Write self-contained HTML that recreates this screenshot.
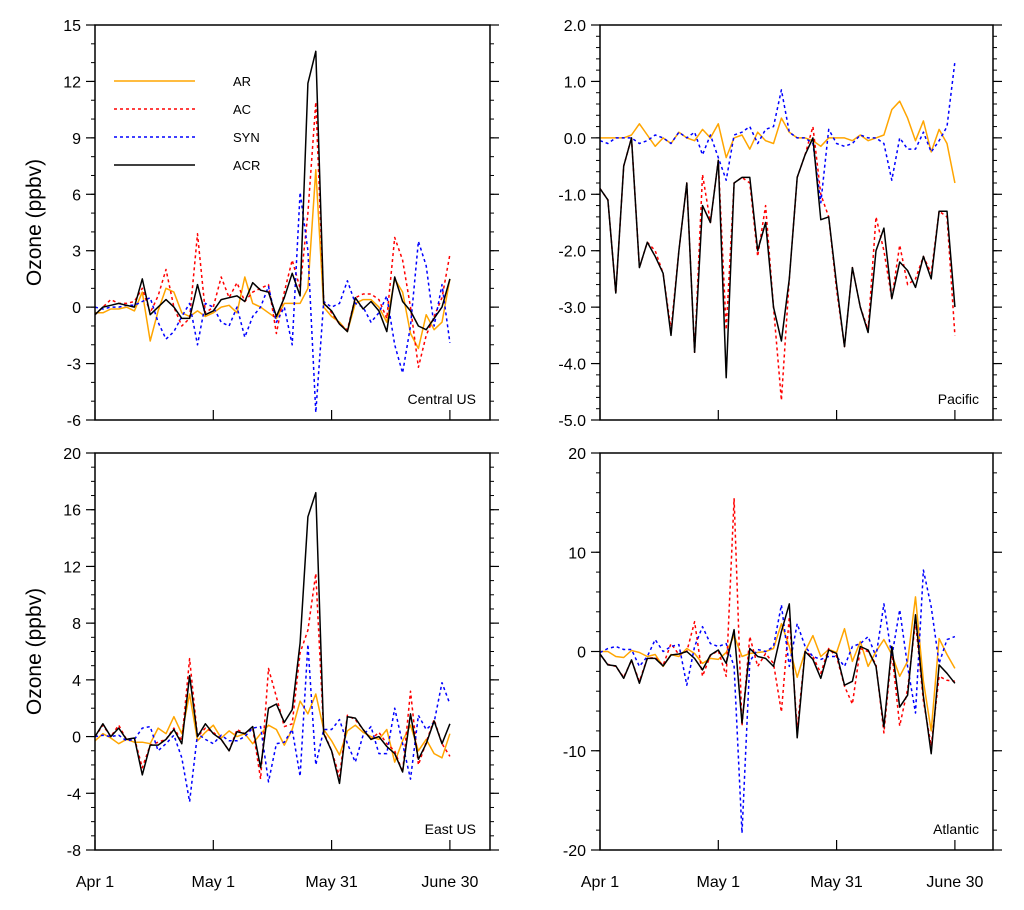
<!DOCTYPE html>
<html><head><meta charset="utf-8"><style>
body{margin:0;background:#fff;font-family:"Liberation Sans",Arial,sans-serif}
svg text{font-family:"Liberation Sans",Arial,sans-serif}
</style></head><body>
<svg id="chart" width="1024" height="905" viewBox="0 0 1024 905" xmlns="http://www.w3.org/2000/svg"></svg>
<script>
// ---- data (one value every 2 days, Apr 1 .. June 30) ----
const dayStep = 2;
const xTickDays = [0, 30, 60, 90];
const xTickLabels = ["Apr 1", "May 1", "May 31", "June 30"];
const seriesNames = ["AR", "AC", "SYN", "ACR"];

const centralAR  = [-0.3,-0.3,-0.1,-0.1,0,-0.2,0.8,-1.8,-0.2,1.0,0.8,-0.3,-0.5,-0.2,-0.5,-0.3,0,0.1,-0.3,1.6,0.2,0,-0.3,-0.6,0.2,0.2,0.2,1.0,7.3,0,-0.5,-0.8,-1.3,0.2,0.4,0.4,0,-0.8,1.5,0.8,-1.4,-2.2,-0.4,-1.2,-0.8,1.5];
const centralAC  = [-0.4,0,0.4,0.2,0.2,0.3,1.0,-0.3,0.6,2.0,0,-1.0,-0.6,3.9,-0.3,0,1.6,0.5,1.3,0.3,0.8,1.0,1.2,-1.4,0.8,2.5,1.0,5.0,10.9,0.3,-0.3,-0.9,-1.2,0.5,0.7,0.7,0.4,-0.6,3.7,2.5,0,-3.2,-1.5,-0.5,0.5,2.8];
const centralSYN = [0,-0.1,0,0,0.1,0.1,0.3,0.5,-0.8,-1.7,-1.3,-0.5,0.2,-2.0,0.2,0,-0.8,-1.0,0,-1.6,-0.5,0,1.1,-0.8,0,-2.0,6.1,3.0,-5.6,0.3,0,0.2,1.4,0.2,0,-0.8,-0.3,0.6,-2.0,-3.5,-1.0,3.5,2.2,-1.0,1.2,-1.9];
const centralACR = [-0.4,0,0.1,0.2,0.1,0,1.5,-0.4,0,0.4,0,-0.6,-0.6,1.2,-0.4,-0.2,0.4,0.5,0.6,0.3,1.3,0.9,0.8,-0.5,0.5,1.8,0.6,11.9,13.6,0.2,-0.2,-0.9,-1.3,0.5,-0.1,0.3,-0.2,-1.3,1.6,0.3,-0.2,-1.0,-1.2,-0.6,0,1.5];

const pacificAR  = [0,0,0,0,0.05,0.25,0.05,-0.15,0,-0.1,0.1,0,-0.05,0.15,0,0.25,-0.35,0,0.05,-0.2,0.1,-0.05,-0.1,0.35,0.1,0,0,-0.05,-0.15,0,0,0,-0.05,0.05,-0.05,0,0.05,0.5,0.65,0.35,-0.05,0.3,-0.25,0.15,-0.1,-0.8];
const pacificAC  = [-0.9,-1.1,-2.75,-0.5,0,-2.3,-1.85,-2.0,-2.4,-3.4,-2.0,-0.8,-3.8,-0.65,-1.5,-0.4,-3.4,-0.8,-0.7,-0.8,-2.1,-1.2,-3.0,-4.65,-2.5,-0.7,-0.3,0.2,-1.0,-1.4,-2.7,-3.7,-2.3,-3.0,-3.4,-1.4,-2.0,-2.85,-1.9,-2.6,-2.5,-2.1,-2.4,-1.3,-1.4,-3.5];
const pacificSYN = [-0.05,-0.1,0,0,0,-0.1,-0.05,0.05,0,-0.1,0.1,0,0.1,-0.3,0.05,-0.35,-0.75,0.05,0.1,0.2,-0.1,0.15,0.2,0.85,0.1,0,0,-0.1,-1.15,0.15,-0.1,-0.15,-0.1,0.05,0,0,-0.1,-0.75,0,-0.2,-0.2,0.1,-0.25,-0.05,0.2,1.35];
const pacificACR = [-0.9,-1.1,-2.75,-0.5,0,-2.3,-1.85,-2.1,-2.4,-3.5,-2.0,-0.8,-3.8,-1.2,-1.5,-0.4,-4.25,-0.8,-0.7,-0.7,-2.0,-1.5,-3.0,-3.6,-2.5,-0.7,-0.3,0,-1.45,-1.4,-2.6,-3.7,-2.3,-3.0,-3.45,-2.0,-1.6,-2.85,-2.2,-2.35,-2.65,-2.1,-2.5,-1.3,-1.3,-3.0];

const eastAR  = [-0.3,0.2,-0.1,-0.5,-0.2,-0.4,-0.4,-0.5,0.6,0.2,1.4,0.2,3.0,-0.3,0.3,0.8,-0.1,0.4,0,0.2,-0.5,0.2,0.8,0.5,-0.6,0.5,2.5,1.6,3.0,0.5,-0.3,-1.3,0.4,0.8,0.3,0,-0.2,0.5,-1.8,-0.3,0.8,-1.0,-0.2,-1.2,-1.5,0.2];
const eastAC  = [0,0.8,0,0.8,-0.2,-0.1,-2.2,-0.6,-0.4,-0.2,0.6,-0.3,5.5,0,0.6,0.3,-0.2,-1.0,0.5,0.2,0.6,-3.0,4.8,2.8,0.7,0.9,5.9,7.5,11.5,0.3,-1.0,-2.8,1.5,1.2,0.5,-0.2,0.3,-0.5,-1.0,-2.5,3.2,-2.0,-0.4,1.2,-0.5,-1.4];
const eastSYN = [0,0.1,0,0.1,-0.3,-0.2,0.6,0.7,-1.0,-0.5,0.1,-1.5,-4.6,0.2,-0.2,-0.5,0.1,-0.3,-0.3,0,0.6,0.7,-3.2,-0.5,-0.4,0.5,-2.8,6.5,-2.0,0.5,0.5,1.2,-0.5,-1.8,0.1,0.7,-1.2,-1.2,2.0,-0.5,-3.0,1.5,0.5,1.0,3.8,2.3];
const eastACR = [0,0.9,0,0.6,-0.2,-0.1,-2.7,-0.6,-0.6,-0.2,0.5,-0.5,4.3,0,0.9,0.2,-0.2,-1.0,0.35,0.2,0.7,-2.2,2.0,2.3,1.0,1.9,6.6,15.5,17.2,0.2,-1.0,-3.3,1.4,1.3,0.5,-0.2,0,-0.7,-1.2,-2.5,1.6,-1.6,-0.5,1.1,-0.5,0.9];

const atlanticAR  = [0,0,-0.5,-0.6,0.1,-0.1,-0.5,-0.3,-1.5,-0.3,-0.5,0.3,-0.2,-1.2,-0.7,-0.8,-0.1,1.6,-0.5,-0.2,-0.1,0,0.3,2.8,0.5,-2.6,0,1.6,-0.5,0.2,-0.1,2.3,-1.0,1.0,-1.5,0,1.2,-0.3,-2.5,-1.0,5.5,-3.0,-8.0,1.3,-0.3,-1.7];
const atlanticAC  = [-0.3,-1.3,-1.5,-2.6,-0.9,-3.0,-0.7,-0.6,-1.4,0.8,-0.3,0,3.0,-2.5,-0.4,0.1,-2.5,15.4,-7.5,1.5,-1.5,-0.2,-1.2,-6.1,3.5,-7.8,0,-0.5,-2.2,0.3,-0.5,-3.5,-5.3,0.3,0,-1.3,-8.2,0,-7.5,-3.8,3.0,-5.0,-9.5,-2.5,-2.9,-3.0];
const atlanticSYN = [-0.1,0.3,0.5,0.2,0.2,-1.5,-0.5,1.2,0,0.5,0.7,-3.4,0.5,2.5,0.8,0.5,0.8,-1.5,-18.3,-1.0,0.2,0,0.5,4.7,-1.5,2.8,0.5,-0.5,-0.8,-0.5,-0.5,-1.5,0.5,0.8,1.5,-0.5,4.8,-0.5,4.2,-1.5,-6.2,8.2,4.5,-1.2,1.2,1.5];
const atlanticACR = [-0.25,-1.35,-1.45,-2.7,-0.85,-3.2,-0.7,-0.7,-1.45,-0.35,-0.25,0,-0.7,-1.85,-0.35,0.15,-1.2,2.2,-7.2,0.3,-0.5,-0.7,-1.5,2.0,4.8,-8.7,0,-0.8,-2.7,0.15,-0.2,-3.4,-3.0,0.5,0.15,-1.5,-7.6,0.5,-5.6,-4.4,3.7,-4.5,-10.3,-1.35,-2.2,-3.2];

const centralTicks = [15,12,9,6,3,0,-3,-6];
const centralTickLabels = ["15","12","9","6","3","0","-3","-6"];
const pacificTicks = [2,1,0,-1,-2,-3,-4,-5];
const pacificTickLabels = ["2.0","1.0","0.0","-1.0","-2.0","-3.0","-4.0","-5.0"];
const eastTicks = [20,16,12,8,4,0,-4,-8];
const eastTickLabels = ["20","16","12","8","4","0","-4","-8"];
const atlanticTicks = [20,10,0,-10,-20];
const atlanticTickLabels = ["20","10","0","-10","-20"];

const NS = "http://www.w3.org/2000/svg";
const svg = document.getElementById("chart");
const styles = [
  {color:"#ffa500", dash:null},
  {color:"#ff0000", dash:"3,3"},
  {color:"#0000ff", dash:"3,3"},
  {color:"#000000", dash:null}
];
function mk(tag, attrs, parent){
  const e = document.createElementNS(NS, tag);
  for (const k in attrs) e.setAttribute(k, attrs[k]);
  (parent||svg).appendChild(e);
  return e;
}
function panel(cfg){
  const g = mk("g", {});
  
  
  const L=cfg.x0, R=cfg.x1, T=cfg.y0, B=cfg.y1;
  const xs = d => L + d*(118.3/30);
  const ys = v => T + (cfg.max - v)/(cfg.max - cfg.min)*(B-T);
  // minor ticks
  for (let v=cfg.min; v<=cfg.max+1e-9; v+=cfg.minor){
    const y=ys(v);
    const t1 = mk("line",{x1:L-4,x2:L,y1:y,y2:y,stroke:"#000","stroke-width":1},g);
    
    
    const t2 = mk("line",{x1:R,x2:R+4,y1:y,y2:y,stroke:"#000","stroke-width":1},g);
    
    
  }
  cfg.ticks.forEach((v,i)=>{
    const y=ys(v);
    const t = mk("line",{x1:L-9,x2:L,y1:y,y2:y,stroke:"#000","stroke-width":1.2},g);
    
    
    const t2 = mk("line",{x1:R,x2:R+9,y1:y,y2:y,stroke:"#000","stroke-width":1.2},g);
    
    
    const lb = mk("text",{x:L-14,y:y+6,"text-anchor":"end","font-size":16,fill:"#000"},g);
    lb.textContent = cfg.tickLabels[i];
    
    
  });
  xTickDays.forEach((d,i)=>{
    const x=xs(d);
    const t = mk("line",{x1:x,x2:x,y1:B-10,y2:B,stroke:"#000","stroke-width":1.2},g);
    
    
    if (cfg.xlabels){
      const lb = mk("text",{x:x,y:B+37,"text-anchor":"middle","font-size":16,fill:"#000"},g);
      lb.textContent = xTickLabels[i];
      
      
    }
  });
  cfg.series.forEach((arr,si)=>{
    const pts = arr.map((v,i)=>xs(i*dayStep).toFixed(1)+","+ys(v).toFixed(1)).join(" ");
    const a = {points:pts,fill:"none",stroke:styles[si].color,"stroke-width":1.5,"stroke-linejoin":"round"};
    if (styles[si].dash) a["stroke-dasharray"]=styles[si].dash;
    const pl = mk("polyline",a,g);
    
    
  });
  const fr = mk("rect",{x:L,y:T,width:R-L,height:B-T,fill:"none",stroke:"#000","stroke-width":1.5},g);
  
  
  const rl = mk("text",{x:R-14,y:B-16,"text-anchor":"end","font-size":14,fill:"#000"},g);
  rl.textContent = cfg.label;
  
  
  if (cfg.ylabel){
    const yl = mk("text",{x:0,y:0,"text-anchor":"middle","font-size":21,fill:"#000",transform:"translate(41,"+((T+B)/2)+") rotate(-90)"},g);
    yl.textContent = "Ozone (ppbv)";
    
    
  }
}
panel({name:"central-us",x0:95,x1:490,y0:25,y1:420,max:15,min:-6,minor:1,ticks:centralTicks,tickLabels:centralTickLabels,series:[centralAR,centralAC,centralSYN,centralACR],label:"Central US",ylabel:true,xlabels:false});
panel({name:"pacific",x0:600,x1:993,y0:25,y1:420,max:2,min:-5,minor:0.2,ticks:pacificTicks,tickLabels:pacificTickLabels,series:[pacificAR,pacificAC,pacificSYN,pacificACR],label:"Pacific",ylabel:false,xlabels:false});
panel({name:"east-us",x0:95,x1:490,y0:453,y1:850,max:20,min:-8,minor:1,ticks:eastTicks,tickLabels:eastTickLabels,series:[eastAR,eastAC,eastSYN,eastACR],label:"East US",ylabel:true,xlabels:true});
panel({name:"atlantic",x0:600,x1:993,y0:453,y1:850,max:20,min:-20,minor:2,ticks:atlanticTicks,tickLabels:atlanticTickLabels,series:[atlanticAR,atlanticAC,atlanticSYN,atlanticACR],label:"Atlantic",ylabel:false,xlabels:true});

// legend
const lg = mk("g",{});


seriesNames.forEach((n,i)=>{
  const y = 81 + i*28;
  const a = {x1:114,x2:195,y1:y,y2:y,stroke:styles[i].color,"stroke-width":1.6};
  if (styles[i].dash) a["stroke-dasharray"]=styles[i].dash;
  const ln = mk("line",a,lg);
  
  
  const t = mk("text",{x:233,y:y+5,"font-size":13,fill:"#000"},lg);
  t.textContent = n;
  
  
});
</script>
</body></html>
